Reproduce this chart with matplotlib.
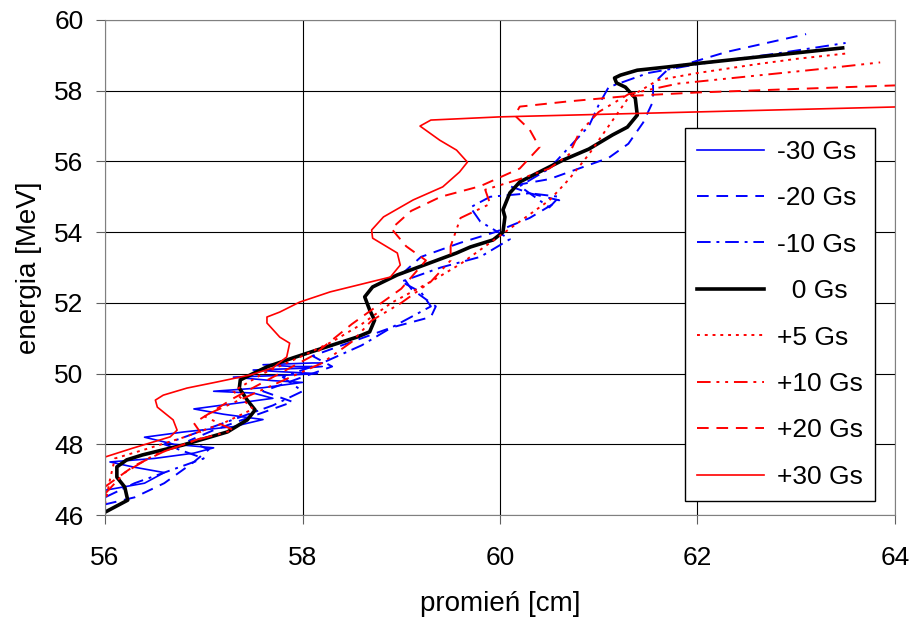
import matplotlib.pyplot as plt

plt.rcParams['font.family'] = ['Liberation Sans', 'DejaVu Sans']

# -30 Gs
m30_x = [56.0, 56.4, 56.6, 56.3, 56.05, 56.5, 56.9, 57.1, 56.7, 56.4, 56.8, 57.3, 57.6, 57.2,
         56.9, 57.3, 57.7, 57.5, 57.1, 57.6, 58.0, 57.7, 57.3, 57.8, 58.15, 57.8, 57.5, 58.0,
         58.2, 57.9, 57.6, 58.1, 58.2]
m30_y = [46.7, 46.9, 47.2, 47.35, 47.5, 47.6, 47.75, 47.9, 48.0, 48.2, 48.35, 48.5, 48.7, 48.85,
         49.0, 49.15, 49.3, 49.45, 49.5, 49.6, 49.75, 49.8, 49.9, 49.95, 50.0, 50.05, 50.1, 50.15,
         50.2, 50.2, 50.25, 50.3, 50.3]

# -20 Gs
m20_x = [56.0, 56.3, 56.6, 56.9, 57.05, 56.85, 57.1, 57.5, 57.9, 57.6, 57.9, 58.3, 58.1, 58.5,
         58.9, 59.3, 59.35, 59.1, 59.0, 59.2, 59.6, 59.95, 60.3, 60.6, 60.3, 60.1, 60.5, 60.8,
         61.1, 61.3, 61.45, 61.55, 61.55, 61.7, 62.3, 63.1]
m20_y = [46.3, 46.5, 46.9, 47.5, 47.85, 48.1, 48.4, 48.8, 49.2, 49.5, 49.8, 50.2, 50.5, 50.9,
         51.3, 51.6, 51.9, 52.4, 52.8, 53.3, 53.7, 54.0, 54.4, 54.9, 55.1, 55.3, 55.5, 55.8,
         56.1, 56.5, 57.1, 57.7, 58.2, 58.6, 59.1, 59.6]

# -10 Gs
m10_x = [56.0, 56.3, 56.7, 57.0, 56.6, 56.9, 57.3, 57.7, 58.0, 57.8, 58.2, 58.6, 58.9, 59.3,
         59.2, 59.0, 59.4, 59.8, 60.1, 59.8, 59.7, 59.9, 60.3, 60.6, 60.5, 60.2, 60.5, 60.7,
         60.9, 61.0, 61.1, 61.5, 62.0, 62.8, 63.5]
m10_y = [46.5, 46.9, 47.3, 47.6, 48.0, 48.3, 48.7, 49.1, 49.5, 49.9, 50.3, 50.8, 51.3, 51.9,
         52.3, 52.6, 53.0, 53.3, 53.8, 54.3, 54.7, 55.0, 55.1, 55.0, 54.7, 55.3, 55.8, 56.4,
         57.0, 57.6, 58.1, 58.5, 58.75, 59.05, 59.35]

# 0 Gs
g0_x = [56.0, 56.23, 56.2, 56.12, 56.12, 56.22, 56.38, 56.79, 57.24, 57.44, 57.52, 57.44, 57.36,
        57.37, 57.47, 57.64, 57.9, 58.15, 58.55, 58.68, 58.73, 58.68, 58.63, 58.71, 58.96, 59.29,
        59.56, 59.7, 59.93, 60.03, 60.05, 60.03, 60.1, 60.2, 60.44, 60.64, 60.9, 61.14, 61.29,
        61.39, 61.37, 61.27, 61.18, 61.16, 61.22, 61.39, 61.69, 62.03, 62.7, 63.47]
g0_y = [46.08, 46.42, 46.79, 47.07, 47.36, 47.56, 47.7, 47.98, 48.35, 48.69, 48.97, 49.25, 49.59,
        49.82, 49.96, 50.19, 50.44, 50.67, 51.03, 51.18, 51.51, 51.8, 52.17, 52.45, 52.79, 53.13,
        53.41, 53.58, 53.78, 54.0, 54.43, 54.63, 55.11, 55.42, 55.76, 56.04, 56.35, 56.75, 56.97,
        57.31, 57.79, 58.1, 58.22, 58.36, 58.44, 58.58, 58.67, 58.78, 58.98, 59.21]

# +5 Gs
p5_x = [56.0, 56.05, 56.1, 56.4, 56.8, 57.2, 57.5, 57.3, 57.6, 58.0, 58.3, 58.6, 58.9, 59.3,
        59.6, 59.9, 60.2, 60.5, 60.7, 60.9, 61.1, 61.3, 61.6, 62.0, 62.6, 63.0, 63.5]
p5_y = [46.3, 47.0, 47.6, 47.85, 48.2, 48.6, 49.0, 49.5, 50.0, 50.5, 50.9, 51.4, 52.0, 52.6,
        53.1, 53.7, 54.3, 54.9, 55.5, 56.2, 57.0, 57.8, 58.3, 58.5, 58.75, 58.9, 59.05]

# +10 Gs
p10_x = [56.0, 56.2, 56.5, 56.9, 57.3, 57.0, 57.4, 57.8, 58.2, 58.5, 58.7, 59.0, 59.3, 59.5,
         59.5, 59.6, 59.9, 59.85, 60.2, 60.5, 60.7, 60.8, 61.0, 61.3, 61.8, 62.5, 63.2, 63.85]
p10_y = [46.6, 47.2, 47.7, 48.1, 48.4, 48.8, 49.3, 49.8, 50.3, 50.9, 51.5, 52.0, 52.6, 53.2,
         53.6, 54.4, 54.8, 55.2, 55.5, 55.8, 56.2, 56.8, 57.4, 57.9, 58.2, 58.4, 58.6, 58.8]

# +20 Gs
p20_x = [56.0, 56.3, 56.6, 57.0, 56.9, 57.3, 57.7, 58.1, 58.5, 59.0, 59.25, 59.05, 58.9, 59.1,
         59.4, 59.8, 60.2, 60.4, 60.3, 60.15, 60.2, 60.7, 61.3, 62.0, 63.0, 64.0]
p20_y = [46.8, 47.4, 47.8, 48.2, 48.6, 49.3, 49.9, 50.5, 51.4, 52.4, 53.2, 53.6, 54.1, 54.6,
         55.0, 55.3, 55.8, 56.4, 56.9, 57.3, 57.55, 57.7, 57.85, 57.95, 58.05, 58.15]

# +30 Gs
p30_x = [56.0, 56.28, 56.66, 56.73, 56.69, 56.53, 56.51, 56.59, 56.83, 57.13, 57.47, 57.7, 57.84,
         57.87, 57.77, 57.64, 57.64, 57.77, 57.97, 58.28, 58.89, 58.99, 58.96, 58.71, 58.7, 58.82,
         59.12, 59.42, 59.59, 59.67, 59.56, 59.39, 59.19, 59.3, 60.0, 64.0]
p30_y = [47.64, 47.89, 48.21, 48.4, 48.69, 49.05, 49.25, 49.39, 49.59, 49.76, 49.96, 50.16, 50.47,
         50.86, 51.03, 51.43, 51.6, 51.74, 52.02, 52.31, 52.73, 53.07, 53.41, 53.83, 54.06, 54.43,
         54.91, 55.28, 55.7, 55.98, 56.32, 56.6, 57.0, 57.17, 57.26, 57.54]

labels = ['-30 Gs', '-20 Gs', '-10 Gs', '  0 Gs', '+5 Gs', '+10 Gs', '+20 Gs', '+30 Gs']

fig = plt.figure(figsize=(9.1, 6.17), dpi=100)
ax = fig.add_axes([0.1154, 0.1653, 0.8681, 0.8023])

blue = '#0000ff'
red = '#ff0000'
ax.plot(m30_x, m30_y, color=blue, lw=1.2, ls='-', label=labels[0])
ax.plot(m20_x, m20_y, color=blue, lw=1.4, ls=(0, (6, 4)), label=labels[1])
ax.plot(m10_x, m10_y, color=blue, lw=1.4, ls=(0, (7, 3, 1.5, 3)), label=labels[2])
ax.plot(g0_x, g0_y, color='black', lw=2.6, ls='-', label=labels[3])
ax.plot(p5_x, p5_y, color=red, lw=1.4, ls=(0, (1.5, 2.5)), label=labels[4])
ax.plot(p10_x, p10_y, color=red, lw=1.4, ls=(0, (7, 3, 1.5, 3, 1.5, 3)), label=labels[5])
ax.plot(p20_x, p20_y, color=red, lw=1.4, ls=(0, (6, 4)), label=labels[6])
ax.plot(p30_x, p30_y, color=red, lw=1.2, ls='-', label=labels[7])

ax.set_xlim(56, 64)
ax.set_ylim(46, 60)
ax.set_xticks([56, 58, 60, 62, 64])
ax.set_yticks([46, 48, 50, 52, 54, 56, 58, 60])
ax.grid(True, color='black', lw=0.8)
ax.set_axisbelow(True)
for s in ax.spines.values():
    s.set_color('#808080')
ax.tick_params(labelsize=19, length=6.5, color='#606060')
ax.tick_params(axis='x', pad=16)
ax.tick_params(axis='y', pad=9)
ax.set_xlabel('promień [cm]', fontsize=20, labelpad=15)
ax.set_ylabel('energia [MeV]', fontsize=20, labelpad=9)

leg = ax.legend(loc='upper left', bbox_to_anchor=(0.734, 0.782), fontsize=19,
                frameon=True, fancybox=False, framealpha=1, edgecolor='black',
                handlelength=2.55, labelspacing=0.85, borderpad=0.45, handletextpad=0.5,
                borderaxespad=0)
leg.get_frame().set_linewidth(1.0)

fig.savefig('out.png', dpi=100)
